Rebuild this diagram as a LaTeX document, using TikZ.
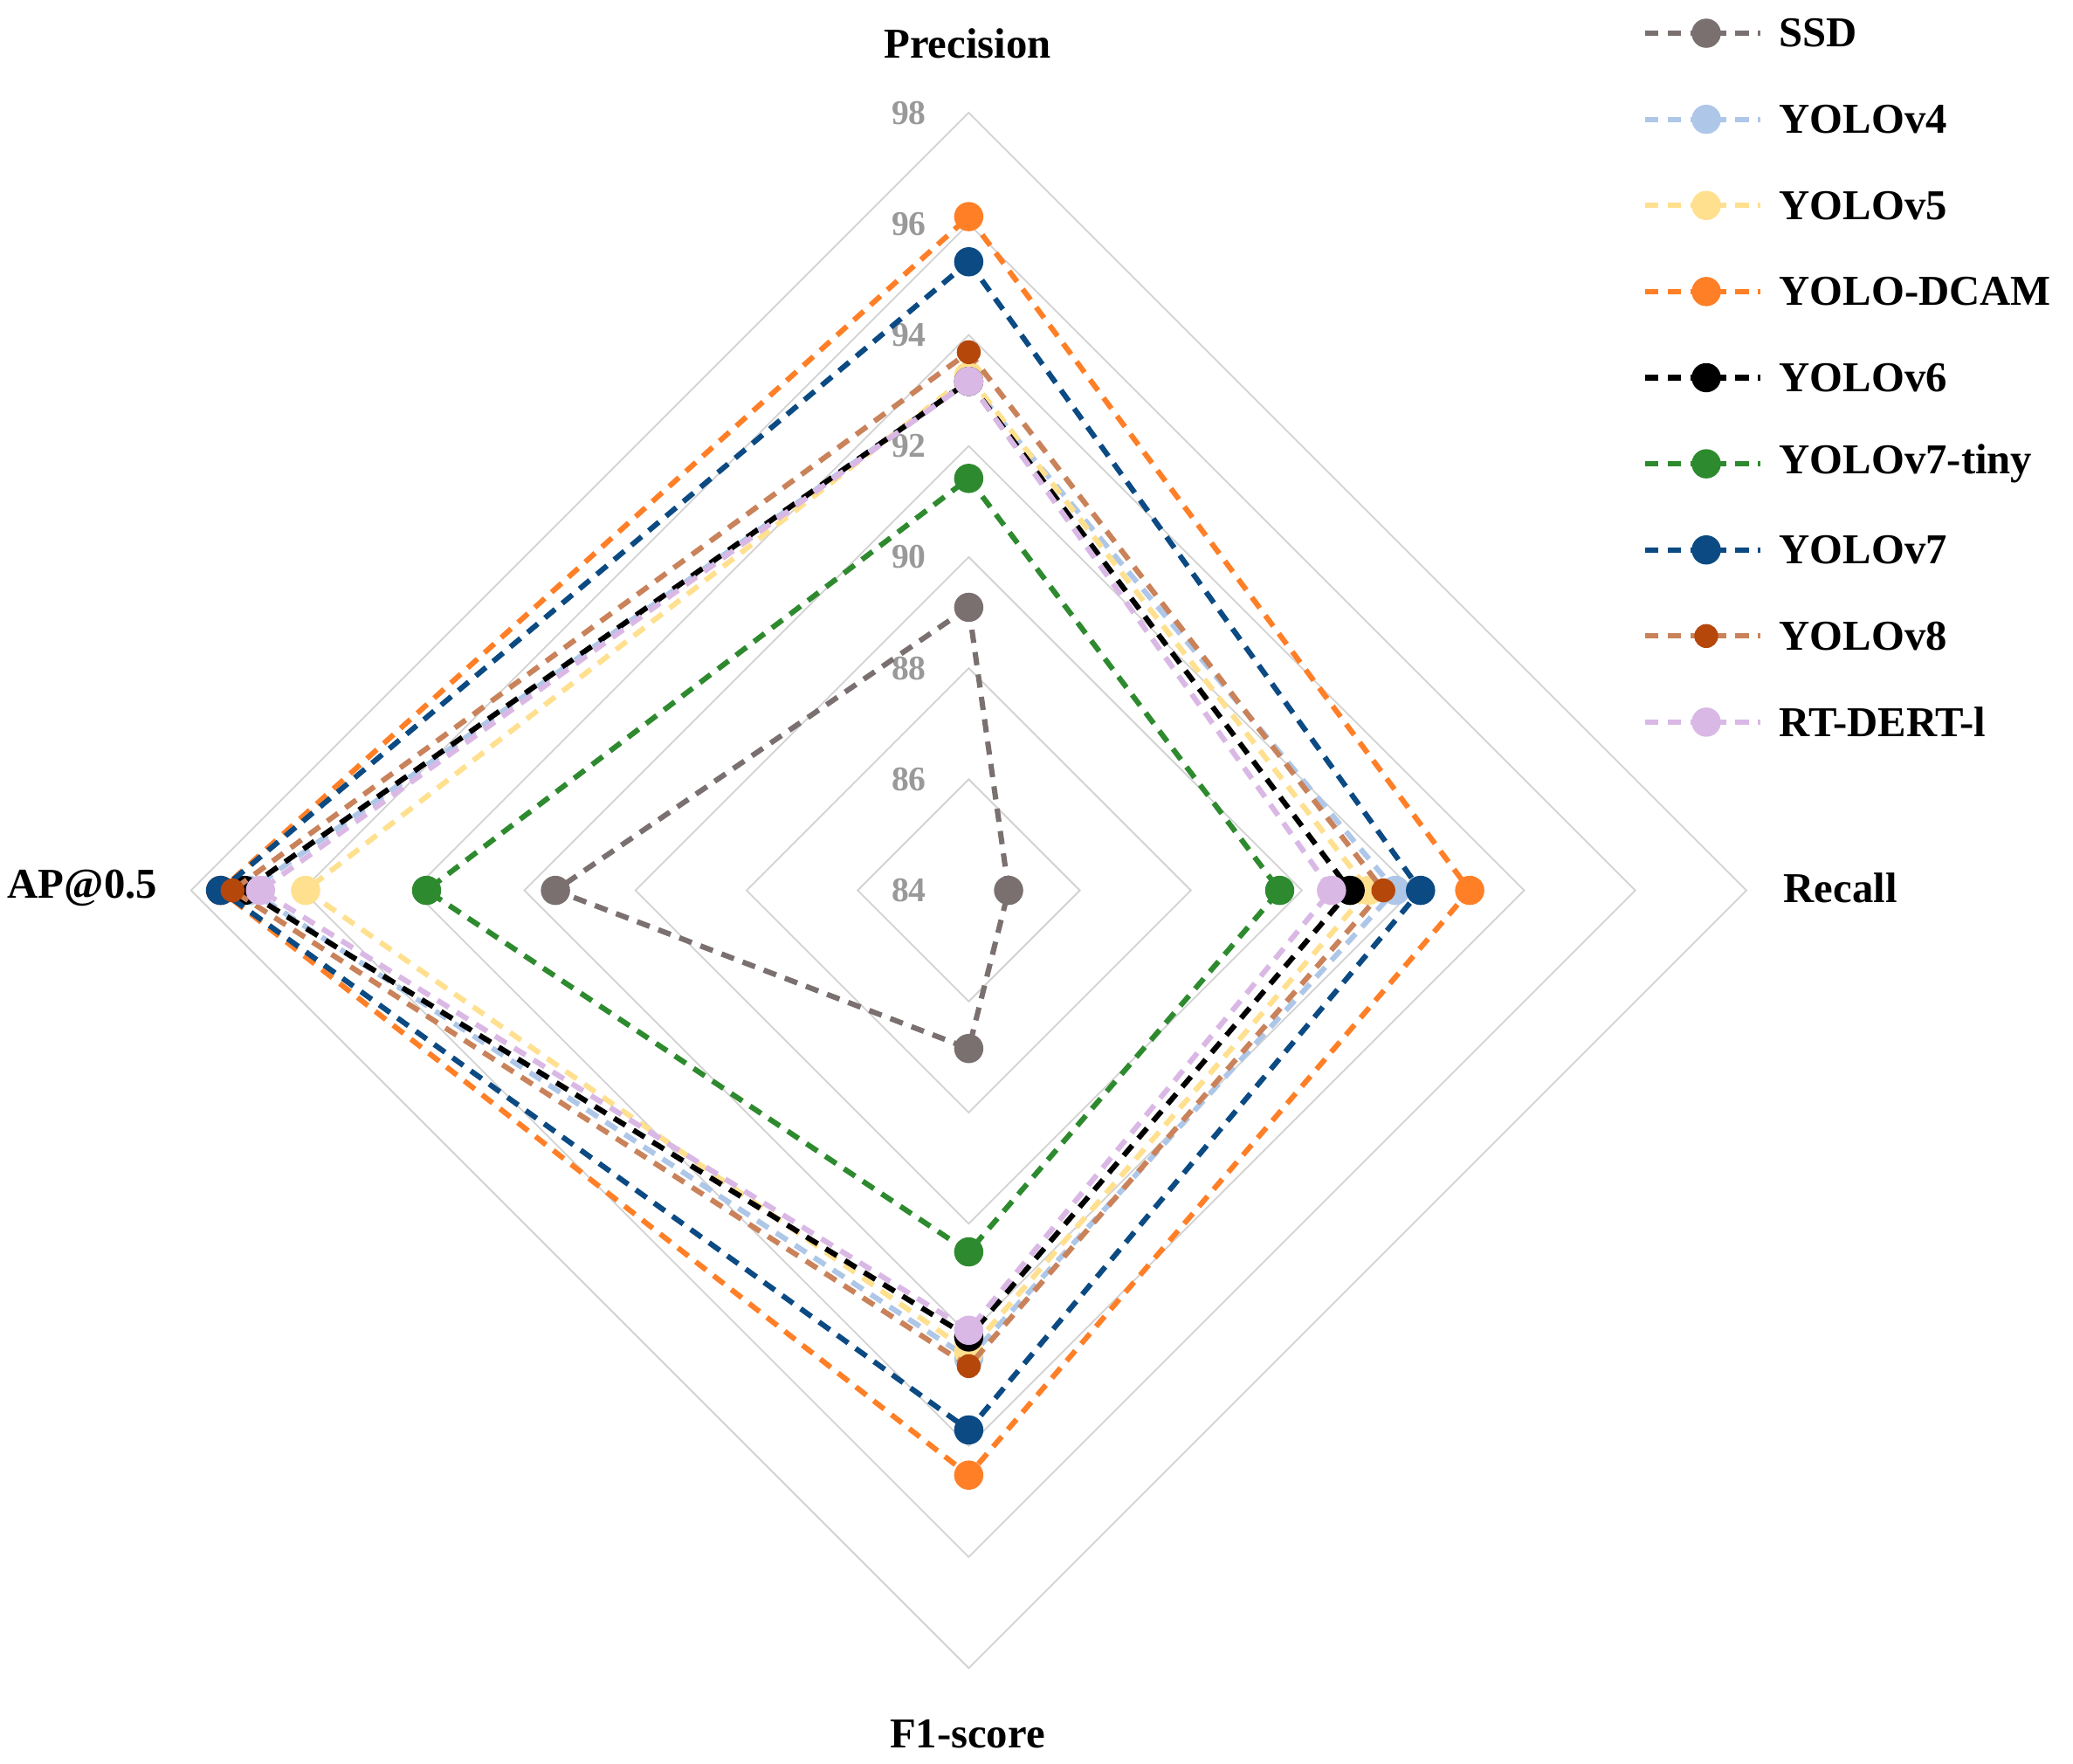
\documentclass[tikz,border=0pt]{standalone}
\usepackage{fontspec}
\setmainfont{Liberation Serif}
\definecolor{cssd}{HTML}{7A7070}
\definecolor{cv4}{HTML}{AEC7E8}
\definecolor{cv5}{HTML}{FFE08F}
\definecolor{cdcam}{HTML}{FF7F27}
\definecolor{cv6}{HTML}{000000}
\definecolor{ctiny}{HTML}{2E8A2E}
\definecolor{cv7}{HTML}{0B4A82}
\definecolor{cv8}{HTML}{C9825A}
\definecolor{cv8m}{HTML}{B5470B}
\definecolor{crt}{HTML}{DAB8E5}
\begin{document}
\begin{tikzpicture}[x=0.5pt,y=-0.5pt,
  ser/.style={line width=2pt,dash pattern=on 5pt off 3.5pt},
  lab/.style={font=\fontsize{16}{18}\selectfont\bfseries},
  tick/.style={font=\fontsize{13}{15}\selectfont\bfseries,text=gray!80}]
\useasboundingbox (0,0) rectangle (1560,1327);
\node[lab] (tp) at (728,33) {Precision};
\node[lab] (tr) at (1385,668) {Recall};
\node[lab] (tf) at (728,1305) {F1-score};
\node[lab] (ta) at (62,668) {AP@0.5};
\begin{scope}[shift={(729,670)}]
\foreach \k in {1,...,7}{
  \pgfmathsetmacro\rr{83.6*\k}
  \draw[gray!35,line width=0.6pt] (0,-\rr)--(\rr,0)--(0,\rr)--(-\rr,0)--cycle;}
\foreach \v [count=\i from 0] in {84,86,...,98}{
  \pgfmathsetmacro\yy{-83.6*\i}
  \node[tick] at (-45,\yy) {\v};}
\foreach \p/\r/\f/\a/\col/\mc/\ms in {
  213/30/119/311/cssd/cssd/5.5,
  383/321/352/541/cv4/cv4/5.5,
  387/301/347/499/cv5/cv5/5.5,
  507/377/440/563/cdcam/cdcam/5.5,
  383/287/336/545/cv6/cv6/5.5,
  310/234/272/408/ctiny/ctiny/5.5,
  473/340/406/563/cv7/cv7/5.5,
  405/312/358/554/cv8/cv8m/4.5,
  383/273/331/533/crt/crt/5.5}{
  \draw[ser,\col] (0,-\p)--(\r,0)--(0,\f)--(-\a,0)--cycle;
  \fill[\mc] (0,-\p) circle (\ms pt) (\r,0) circle (\ms pt)
    (0,\f) circle (\ms pt) (-\a,0) circle (\ms pt);
}
\end{scope}
\foreach \n/\col/\mc/\ms [count=\i from 0] in {
  SSD/cssd/cssd/5.5, YOLOv4/cv4/cv4/5.5, YOLOv5/cv5/cv5/5.5,
  YOLO-DCAM/cdcam/cdcam/5.5, YOLOv6/cv6/cv6/5.5, YOLOv7-tiny/ctiny/ctiny/5.5,
  YOLOv7/cv7/cv7/5.5, YOLOv8/cv8/cv8m/4.5, RT-DERT-l/crt/crt/5.5}{
  \pgfmathsetmacro\yy{25+64.8*\i}
  \draw[ser,\col] (1238,\yy)--(1325,\yy);
  \fill[\mc] (1284,\yy) circle (\ms pt);
  \node[lab,anchor=west] (l\i) at (1332,\yy) {\n};
}
\end{tikzpicture}
\end{document}
